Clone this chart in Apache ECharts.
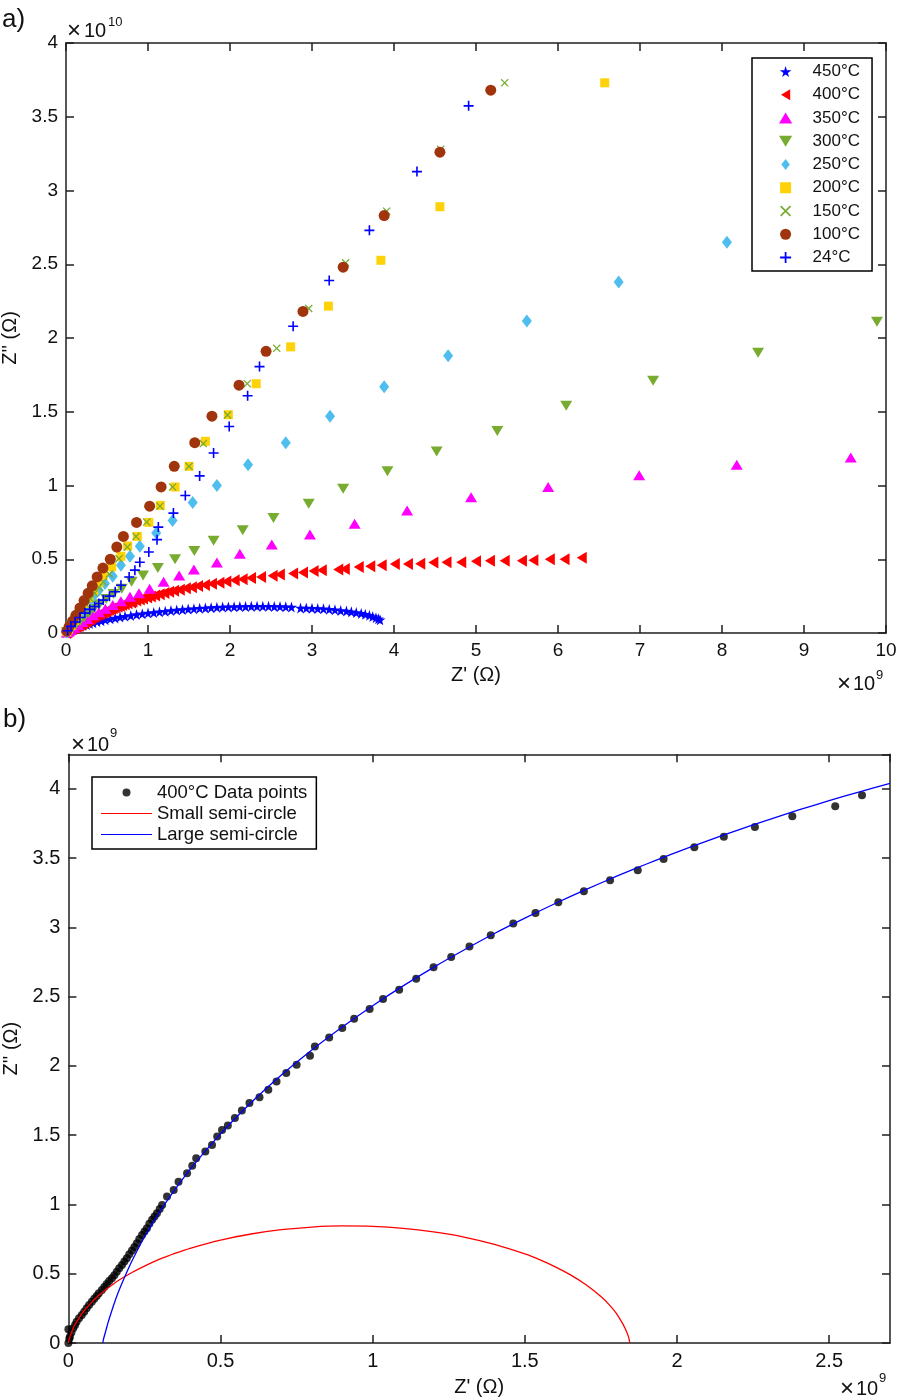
<!DOCTYPE html>
<html><head><meta charset="utf-8">
<script src="https://cdn.jsdelivr.net/npm/echarts/dist/echarts.min.js"></script>
<style>html,body{margin:0;padding:0;background:#fff}#c{width:900px;height:1400px}</style>
</head><body><div id="c"></div>
<script>
// ---------- Panel a) data: Z' in units of 1e9 Ohm, Z'' in units of 1e10 Ohm ----------
const namesA = ['450°C','400°C','350°C','300°C','250°C','200°C','150°C','100°C','24°C'];
const xTicksA = [0,1,2,3,4,5,6,7,8,9,10];
const yTicksA = [0,0.5,1,1.5,2,2.5,3,3.5,4];

const d450 = [[0.005,0.003],[0.01,0.006],[0.02,0.01],[0.03,0.014],[0.045,0.018],[0.06,0.022],[0.08,0.026],[0.10,0.030],[0.12,0.034],[0.15,0.040],[0.18,0.046],[0.21,0.052],[0.25,0.058],[0.29,0.064],[0.33,0.070],[0.38,0.077],[0.43,0.083],[0.48,0.089],[0.54,0.096],[0.60,0.102],[0.66,0.108],[0.72,0.113],[0.79,0.119],[0.86,0.125],[0.93,0.130],[1.00,0.135],[1.07,0.139],[1.14,0.144],[1.21,0.148],[1.28,0.152],[1.35,0.156],[1.42,0.159],[1.49,0.162],[1.56,0.165],[1.63,0.168],[1.70,0.170],[1.77,0.172],[1.84,0.174],[1.91,0.176],[1.98,0.177],[2.05,0.178],[2.12,0.179],[2.19,0.180],[2.26,0.181],[2.33,0.181],[2.40,0.181],[2.47,0.181],[2.54,0.180],[2.61,0.179],[2.68,0.178],[2.75,0.176],[2.86,0.170],[2.93,0.169],[3.00,0.168],[3.07,0.166],[3.14,0.164],[3.21,0.161],[3.28,0.157],[3.35,0.153],[3.42,0.149],[3.48,0.144],[3.54,0.139],[3.60,0.133],[3.65,0.127],[3.70,0.120],[3.74,0.112],[3.78,0.104],[3.81,0.097],[3.83,0.090]];

const d400 = [[0.0,0.0],[0.005,0.0045],[0.01,0.0075],[0.016,0.011],[0.027,0.015],[0.044,0.020],[0.06,0.025],[0.077,0.030],[0.093,0.034],[0.11,0.038],[0.126,0.043],[0.143,0.047],[0.159,0.052],[0.176,0.056],[0.192,0.061],[0.209,0.067],[0.225,0.072],[0.242,0.078],[0.258,0.083],[0.275,0.089],[0.291,0.094],[0.308,0.10],[0.324,0.106],[0.346,0.11],[0.362,0.117],[0.39,0.123],[0.407,0.128],[0.42,0.133],[0.45,0.138],[0.472,0.143],[0.489,0.149],[0.505,0.154],[0.524,0.157],[0.547,0.162],[0.57,0.168],[0.595,0.173],[0.628,0.178],[0.657,0.183],[0.684,0.189],[0.716,0.195],[0.75,0.201],[0.794,0.207],[0.81,0.214],[0.857,0.221],[0.90,0.227],[0.939,0.234],[0.99,0.241],[1.034,0.248],[1.087,0.255],[1.143,0.263],[1.20,0.271],[1.258,0.279],[1.318,0.286],[1.388,0.294],[1.462,0.303],[1.535,0.31],[1.61,0.318],[1.694,0.326],[1.78,0.334],[1.871,0.341],[1.956,0.35],[2.057,0.358],[2.154,0.365],[2.256,0.373],[2.379,0.380],[2.52,0.388],[2.608,0.396],[2.77,0.403],[2.89,0.41],[3.02,0.42],[3.12,0.426],[3.32,0.43],[3.40,0.434],[3.57,0.448],[3.71,0.453],[3.85,0.46],[4.01,0.468],[4.17,0.468],[4.32,0.47],[4.48,0.478],[4.64,0.48],[4.82,0.48],[5.0,0.486],[5.17,0.489],[5.35,0.489],[5.56,0.489],[5.70,0.493],[5.90,0.50],[6.08,0.50],[6.29,0.511]];

const d350 = [[9.57,1.19],[8.18,1.14],[6.99,1.07],[5.88,0.99],[4.94,0.92],[4.16,0.83],[3.52,0.741],[2.975,0.667],[2.51,0.60],[2.12,0.538],[1.84,0.478],[1.56,0.43],[1.38,0.39],[1.19,0.347],[1.02,0.30],[0.89,0.27],[0.78,0.245],[0.67,0.215],[0.57,0.19],[0.48,0.165],[0.40,0.14],[0.33,0.12],[0.26,0.095],[0.20,0.075],[0.15,0.055],[0.10,0.035],[0.06,0.02],[0.03,0.01],[0.01,0.003]];

const d300 = [[9.89,2.11],[8.44,1.90],[7.16,1.71],[6.10,1.54],[5.26,1.37],[4.52,1.23],[3.92,1.097],[3.38,0.978],[2.96,0.876],[2.53,0.78],[2.155,0.696],[1.80,0.625],[1.565,0.556],[1.33,0.50],[1.12,0.44],[0.94,0.39],[0.80,0.347],[0.68,0.30],[0.58,0.265],[0.49,0.23],[0.41,0.195],[0.34,0.165],[0.28,0.135],[0.22,0.105],[0.17,0.08],[0.12,0.055],[0.08,0.035],[0.04,0.018],[0.01,0.005]];

const d250 = [[8.06,2.65],[6.74,2.38],[5.62,2.115],[4.66,1.88],[3.88,1.67],[3.22,1.47],[2.68,1.29],[2.22,1.14],[1.84,1.0],[1.545,0.885],[1.30,0.763],[1.10,0.678],[0.90,0.588],[0.78,0.52],[0.67,0.46],[0.57,0.385],[0.475,0.336],[0.40,0.29],[0.33,0.245],[0.27,0.205],[0.21,0.165],[0.16,0.125],[0.11,0.085],[0.07,0.05],[0.03,0.02],[0.01,0.005]];

const d200 = [[6.57,3.73],[4.56,2.89],[3.84,2.527],[3.20,2.216],[2.74,1.94],[2.32,1.69],[1.98,1.48],[1.70,1.30],[1.50,1.13],[1.33,0.99],[1.15,0.865],[1.01,0.75],[0.87,0.655],[0.752,0.59],[0.67,0.52],[0.557,0.448],[0.455,0.392],[0.40,0.34],[0.34,0.29],[0.28,0.24],[0.23,0.20],[0.18,0.16],[0.14,0.12],[0.10,0.085],[0.06,0.05],[0.03,0.025],[0.01,0.008]];

const d150 = [[5.35,3.73],[4.57,3.28],[3.91,2.86],[3.41,2.51],[2.96,2.20],[2.57,1.93],[2.21,1.69],[1.97,1.478],[1.674,1.284],[1.50,1.13],[1.30,0.99],[1.146,0.86],[0.984,0.752],[0.854,0.655],[0.748,0.583],[0.646,0.504],[0.528,0.40],[0.455,0.347],[0.40,0.31],[0.35,0.27],[0.30,0.23],[0.25,0.19],[0.20,0.15],[0.16,0.12],[0.12,0.09],[0.08,0.06],[0.05,0.035],[0.02,0.015]];

const d100 = [[5.18,3.68],[4.56,3.26],[3.88,2.83],[3.38,2.48],[2.89,2.18],[2.44,1.91],[2.11,1.68],[1.78,1.47],[1.57,1.29],[1.32,1.13],[1.16,0.99],[1.02,0.86],[0.86,0.75],[0.70,0.655],[0.62,0.583],[0.54,0.50],[0.45,0.44],[0.38,0.38],[0.32,0.32],[0.27,0.27],[0.22,0.22],[0.17,0.17],[0.12,0.12],[0.08,0.08],[0.04,0.045],[0.01,0.012]];

const d24 = [[4.91,3.574],[4.28,3.128],[3.70,2.73],[3.21,2.39],[2.77,2.08],[2.36,1.806],[2.215,1.608],[1.99,1.40],[1.80,1.22],[1.63,1.065],[1.455,0.932],[1.31,0.813],[1.126,0.718],[1.11,0.633],[1.01,0.549],[0.90,0.48],[0.84,0.426],[0.77,0.38],[0.67,0.324],[0.60,0.28],[0.53,0.25],[0.455,0.223],[0.40,0.20],[0.35,0.18],[0.29,0.16],[0.23,0.135],[0.17,0.105],[0.11,0.075],[0.06,0.045],[0.02,0.015]];

// ---------- Panel b) data: both axes in units of 1e9 Ohm ----------
const namesB = ['400°C Data points','Small semi-circle','Large semi-circle'];
const xTicksB = [0,0.5,1,1.5,2,2.5];
const yTicksB = [0,0.5,1,1.5,2,2.5,3,3.5,4];

const dataB = [[0.0,0.0],[0.0,0.10],[0.003,0.03],[0.005,0.045],[0.01,0.075],[0.016,0.106],[0.022,0.13],[0.027,0.154],[0.035,0.178],[0.044,0.202],[0.052,0.226],[0.06,0.25],[0.068,0.274],[0.077,0.298],[0.085,0.319],[0.093,0.34],[0.10,0.36],[0.11,0.383],[0.118,0.405],[0.126,0.426],[0.134,0.447],[0.143,0.467],[0.151,0.49],[0.159,0.515],[0.167,0.54],[0.176,0.564],[0.184,0.588],[0.192,0.612],[0.20,0.64],[0.209,0.667],[0.217,0.693],[0.225,0.72],[0.233,0.75],[0.242,0.78],[0.25,0.805],[0.258,0.829],[0.266,0.86],[0.275,0.889],[0.283,0.913],[0.291,0.937],[0.30,0.967],[0.308,0.997],[0.324,1.057],[0.346,1.105],[0.362,1.165],[0.39,1.226],[0.407,1.279],[0.42,1.334],[0.45,1.382],[0.472,1.43],[0.489,1.49],[0.505,1.538],[0.524,1.570],[0.547,1.624],[0.57,1.679],[0.595,1.732],[0.628,1.775],[0.657,1.828],[0.684,1.888],[0.716,1.949],[0.75,2.009],[0.794,2.074],[0.81,2.141],[0.857,2.206],[0.90,2.274],[0.939,2.341],[0.99,2.411],[1.034,2.483],[1.087,2.550],[1.143,2.630],[1.20,2.712],[1.258,2.787],[1.318,2.863],[1.388,2.944],[1.462,3.028],[1.535,3.105],[1.61,3.182],[1.694,3.261],[1.78,3.341],[1.871,3.413],[1.956,3.495],[2.057,3.579],[2.154,3.654],[2.256,3.726],[2.379,3.803],[2.52,3.875],[2.608,3.955]];

const smallCircle = [[0,0],[0.002,0.025],[0.005,0.044],[0.01,0.075],[0.02,0.126],[0.035,0.18],[0.05,0.229],[0.075,0.29],[0.1,0.344],[0.15,0.43],[0.2,0.498],[0.25,0.555],[0.3,0.605],[0.35,0.647],[0.4,0.684],[0.5,0.743],[0.6,0.787],[0.7,0.818],[0.8,0.837],[0.9,0.845],[1.0,0.842],[1.1,0.828],[1.2,0.802],[1.3,0.765],[1.4,0.712],[1.5,0.643],[1.55,0.6],[1.6,0.55],[1.65,0.492],[1.7,0.422],[1.75,0.335],[1.78,0.27],[1.8,0.215],[1.82,0.145],[1.83,0.103],[1.84,0.05],[1.845,0]];

const largeCircle = [[0.113,0],[0.115,0.025],[0.12,0.065],[0.125,0.105],[0.13,0.145],[0.14,0.215],[0.15,0.282],[0.162,0.355],[0.175,0.426],[0.2,0.551],[0.225,0.662],[0.25,0.765],[0.3,0.947],[0.35,1.107],[0.4,1.254],[0.5,1.51],[0.6,1.734],[0.7,1.934],[0.8,2.115],[0.9,2.281],[1.0,2.435],[1.1,2.578],[1.2,2.712],[1.3,2.837],[1.4,2.956],[1.5,3.067],[1.6,3.173],[1.7,3.273],[1.8,3.368],[1.9,3.458],[2.0,3.544],[2.1,3.625],[2.2,3.703],[2.3,3.777],[2.4,3.848],[2.5,3.915],[2.6,3.979],[2.7,4.04]];

// ---------- styling ----------
const FONT = "'Liberation Sans', Arial, Helvetica, sans-serif";
const AX = '#1f1f1f';
const symStar = 'path://M50,0 L61,35 L98,35 L68,57 L79,91 L50,70 L21,91 L32,57 L2,35 L39,35 Z';
const symLeft = 'path://M0,6 L10,0 L10,12 Z';
const symUp = 'path://M6,0 L12,10 L0,10 Z';
const symDown = 'path://M0,0 L12,0 L6,10 Z';
const symDiamond = 'path://M5,0 L10,6.5 L5,13 L0,6.5 Z';
const symSquare = 'path://M0,0 L10,0 L10,10 L0,10 Z';
const symPlus = 'path://M4.2,0 L5.8,0 L5.8,4.2 L10,4.2 L10,5.8 L5.8,5.8 L5.8,10 L4.2,10 L4.2,5.8 L0,5.8 L0,4.2 L4.2,4.2 Z';
const symX = 'path://M0,1.1 L1.1,0 L5,3.9 L8.9,0 L10,1.1 L6.1,5 L10,8.9 L8.9,10 L5,6.1 L1.1,10 L0,8.9 L3.9,5 Z';
const symLine = 'path://M0,0 L60,0 L60,1.2 L0,1.2 Z';

const specA = [
  {d:d450, sym:symStar, size:11, color:'#0000ff'},
  {d:d400, sym:symLeft, size:[10,12], color:'#ff0000'},
  {d:d350, sym:symUp, size:[12,10], color:'#ff00ff'},
  {d:d300, sym:symDown, size:[12,10], color:'#77ac30'},
  {d:d250, sym:symDiamond, size:[10,13], color:'#4dbeee'},
  {d:d200, sym:symSquare, size:9, color:'#fdd208'},
  {d:d150, sym:symX, size:8, color:'#77ac30'},
  {d:d100, sym:'circle', size:11, color:'#a0350d'},
  {d:d24, sym:symPlus, size:10, color:'#0000ff'}
];

function mkAxis(o) {
  return Object.assign({
    type:'value', splitLine:{show:false},
    axisLine:{show:true, onZero:false, lineStyle:{color:AX, width:1.5}},
    axisTick:{show:true, inside:true, length:8, lineStyle:{color:AX, width:1.5}},
    axisLabel:{show:true, color:'#111', fontSize:19, fontFamily:FONT, margin:8},
    nameTextStyle:{color:'#111', fontSize:20, fontFamily:FONT}
  }, o);
}

const series = [];
specA.forEach((s,i) => {
  series.push({name:namesA[i], type:'scatter', xAxisIndex:0, yAxisIndex:0, data:s.d,
    symbol:s.sym, symbolSize:s.size, itemStyle:{color:s.color, opacity:1}, silent:true});
});
series.push({name:namesB[0], type:'scatter', xAxisIndex:2, yAxisIndex:2, data:dataB,
  symbol:'circle', symbolSize:8, itemStyle:{color:'#000'}, silent:true});
series.push({name:namesB[1], type:'line', xAxisIndex:2, yAxisIndex:2, data:smallCircle,
  symbol:'none', smooth:0.3, lineStyle:{color:'#ff0000', width:1.3}, itemStyle:{color:'#ff0000'}, silent:true});
series.push({name:namesB[2], type:'line', xAxisIndex:2, yAxisIndex:2, data:largeCircle,
  symbol:'none', smooth:0.3, lineStyle:{color:'#0000ff', width:1.3}, itemStyle:{color:'#0000ff'}, silent:true});

function txt(x, y, text, size) {
  return {type:'text', x:x, y:y, silent:true,
    style:{text:text, font: size + "px " + FONT, fill:'#111', verticalAlign:'middle', align:'left'}};
}

const option = {
  animation:false,
  backgroundColor:'#fff',
  grid:[
    {left:66, top:43, width:820, height:590, outerBoundsMode:'none', containLabel:false},
    {left:68.4, top:754.3, width:821.6, height:588.7, outerBoundsMode:'none', containLabel:false}
  ],
  xAxis:[
    mkAxis({gridIndex:0, position:'bottom', min:xTicksA[0], max:xTicksA[xTicksA.length-1], interval:1,
      name:"Z' (Ω)", nameLocation:'middle', nameGap:32}),
    mkAxis({gridIndex:0, position:'top', min:xTicksA[0], max:xTicksA[xTicksA.length-1], interval:1, axisLabel:{show:false}}),
    mkAxis({gridIndex:1, position:'bottom', min:xTicksB[0], max:2.7, interval:0.5,
      axisLabel:{show:true, color:'#111', fontSize:20, fontFamily:FONT, margin:8, showMaxLabel:false},
      name:"Z' (Ω)", nameLocation:'middle', nameGap:34}),
    mkAxis({gridIndex:1, position:'top', min:xTicksB[0], max:2.7, interval:0.5, axisLabel:{show:false}})
  ],
  yAxis:[
    mkAxis({gridIndex:0, position:'left', min:yTicksA[0], max:yTicksA[yTicksA.length-1], interval:0.5,
      name:"Z'' (Ω)", nameLocation:'middle', nameGap:44}),
    mkAxis({gridIndex:0, position:'right', min:yTicksA[0], max:yTicksA[yTicksA.length-1], interval:0.5, axisLabel:{show:false}}),
    mkAxis({gridIndex:1, position:'left', min:yTicksB[0], max:4.25, interval:0.5,
      axisLabel:{show:true, color:'#111', fontSize:20, fontFamily:FONT, margin:8, showMaxLabel:false},
      name:"Z'' (Ω)", nameLocation:'middle', nameGap:46}),
    mkAxis({gridIndex:1, position:'right', min:yTicksB[0], max:4.25, interval:0.5, axisLabel:{show:false}})
  ],
  legend:[
    {data:namesA.map((n,i)=>({name:n, icon:specA[i].sym})), orient:'vertical', left:752, top:58,
      padding:[5,12,5,27], itemWidth:44, itemHeight:11, itemGap:6.25,
      borderColor:'#000', borderWidth:1.5, borderRadius:0, backgroundColor:'#fff',
      textStyle:{fontSize:17, lineHeight:17, color:'#111', fontFamily:FONT}, selectedMode:false},
    {data:[{name:namesB[0], icon:'circle'},{name:namesB[1], icon:symLine},{name:namesB[2], icon:symLine}],
      orient:'vertical', left:92, top:777,
      padding:[5,9,4,9], itemWidth:51, itemHeight:8, itemGap:0,
      borderColor:'#000', borderWidth:1.5, borderRadius:0, backgroundColor:'#fff',
      textStyle:{fontSize:18.5, lineHeight:21, color:'#111', fontFamily:FONT}, selectedMode:false}
  ],
  graphic:[
    {type:'text', x:2, y:20, silent:true, style:{text:'a)', font:'26px '+FONT, fill:'#111', verticalAlign:'middle'}},
    {type:'text', x:3, y:720, silent:true, style:{text:'b)', font:'26px '+FONT, fill:'#111', verticalAlign:'middle'}},
    txt(67, 31, '×', 24), txt(84, 31, '10', 20), txt(108, 22, '10', 13),
    txt(837, 684, '×', 24), txt(853, 684, '10', 20), txt(876, 675, '9', 13),
    txt(71, 745, '×', 24), txt(87, 745, '10', 20), txt(110, 733, '9', 13),
    txt(840, 1389, '×', 24), txt(856, 1389, '10', 20), txt(879, 1378, '9', 13)
  ],
  series:series
};

const chart = echarts.init(document.getElementById('c'), null, {renderer:'canvas'});
chart.setOption(option);
</script></body></html>
